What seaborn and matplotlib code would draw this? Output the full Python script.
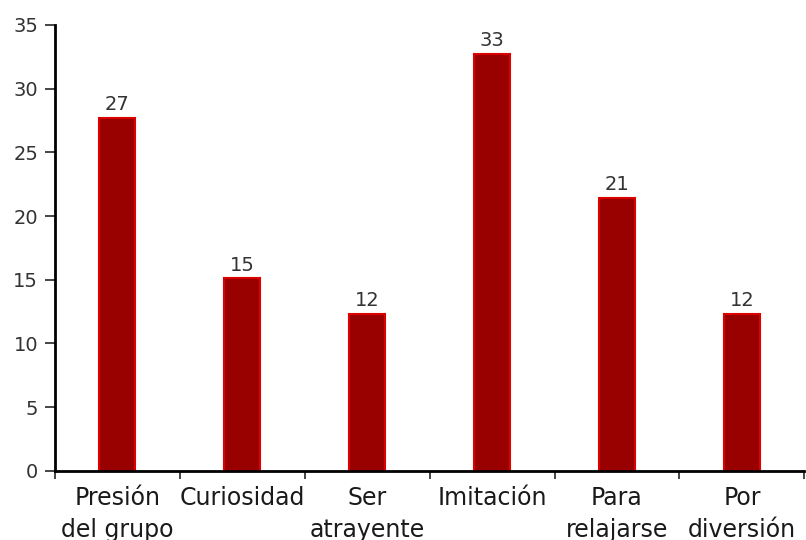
import matplotlib
matplotlib.use("Agg")
import matplotlib.pyplot as plt
import seaborn as sns
import numpy as np

# Data
categories = ["Presión\ndel grupo", "Curiosidad", "Ser\natrayente", "Imitación", "Para\nrelajarse", "Por\ndiversión"]
values = [27.7, 15.1, 12.3, 32.7, 21.4, 12.3]
value_labels = ["27", "15", "12", "33", "21", "12"]

sns.set_style("white")
plt.rcParams["font.family"] = ["DejaVu Sans"]

fig = plt.figure(figsize=(8.06, 5.4), dpi=100)
ax = fig.add_axes([0.068, 0.128, 0.93, 0.826])

sns.barplot(x=categories, y=values, color="#990000", width=0.29,
            edgecolor="#dd0000", linewidth=1.5, saturation=1, ax=ax)

# value labels above bars
for i, (v, lab) in enumerate(zip(values, value_labels)):
    ax.text(i, v + 0.3, lab, ha="center", va="bottom", fontsize=14, color="#333333")

ax.set_ylim(0, 35)
ax.set_xlim(-0.5, len(categories) - 0.5)
ax.set_yticks(range(0, 36, 5))
ax.tick_params(axis="y", labelsize=14, labelcolor="#333333", length=7, width=1.2,
               direction="out", left=True, pad=5)

# x ticks sit at the category boundaries, labels centered under the bars
ax.set_xticks(np.arange(-0.5, len(categories)), minor=False)
ax.set_xticklabels([])
ax.set_xticks(range(len(categories)), minor=True)
ax.set_xticklabels(categories, minor=True, fontsize=17, color="#1a1a1a", linespacing=1.4)
ax.tick_params(axis="x", which="major", length=6, width=1.2, direction="out", bottom=True)
ax.tick_params(axis="x", which="minor", length=0, pad=11)

for side in ["top", "right"]:
    ax.spines[side].set_visible(False)
for side in ["left", "bottom"]:
    ax.spines[side].set_linewidth(2)
    ax.spines[side].set_color("black")

ax.set_xlabel("")
ax.set_ylabel("")

fig.savefig("out.png", dpi=100)
